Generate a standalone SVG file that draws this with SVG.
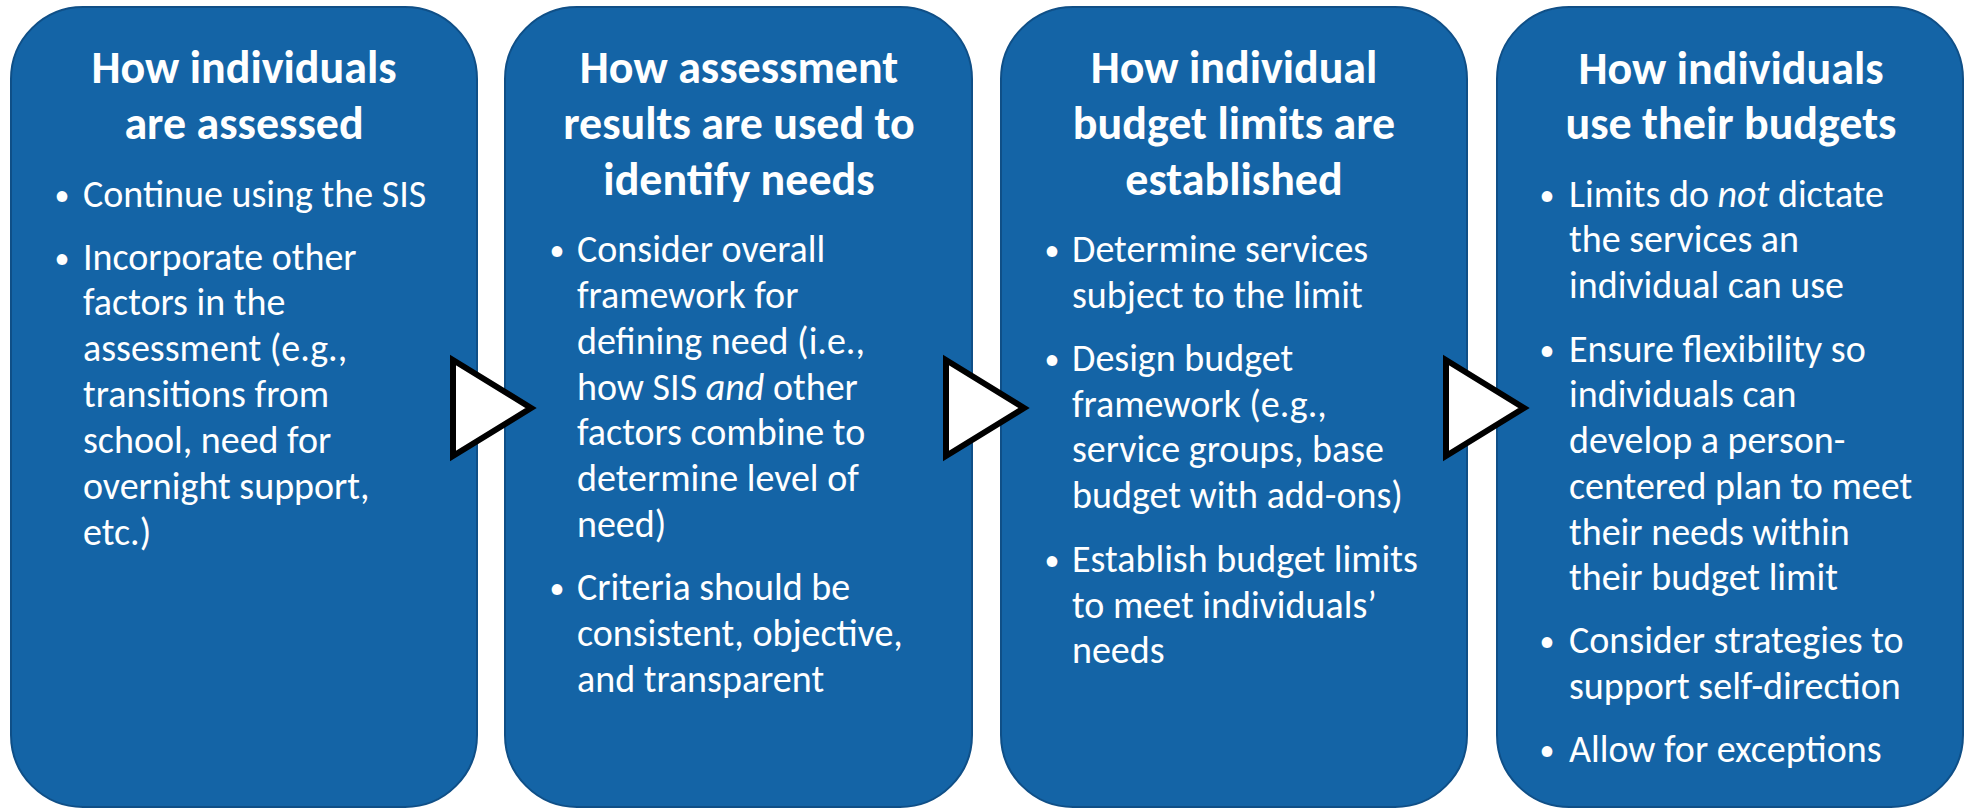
<svg xmlns="http://www.w3.org/2000/svg" width="1967" height="809" viewBox="0 0 1967 809">
<style>
.box{fill:#1464A6;stroke:#0F4F87;stroke-width:2}
.arrow{fill:#FFFFFF;stroke:#000000;stroke-width:6;stroke-linejoin:miter}
.t{font-family:Carlito,Lato,"Open Sans",sans-serif;font-weight:700;font-size:46px;fill:#FFFFFF;text-anchor:middle}
.b{font-family:Carlito,Lato,"Open Sans",sans-serif;font-size:38px;fill:#FFFFFF}
.d{font-family:Carlito,Lato,"Open Sans",sans-serif;font-size:30px;fill:#FFFFFF;text-anchor:middle}
.i{font-style:italic}
</style>
<rect width="1967" height="809" fill="#FFFFFF"/>
<g id="node1">
<rect class="box" x="11" y="7" width="466" height="800" rx="72" ry="72"/>
<text class="t" x="244" y="83">How individuals</text>
<text class="t" x="244" y="139">are assessed</text>
<text class="d" x="62" y="205">•</text>
<text class="b" x="83" y="207">Continue using the SIS</text>
<text class="d" x="62" y="268">•</text>
<text class="b" x="83" y="270">Incorporate other</text>
<text class="b" x="83" y="315">factors in the</text>
<text class="b" x="83" y="361">assessment (e.g.,</text>
<text class="b" x="83" y="407">transitions from</text>
<text class="b" x="83" y="453">school, need for</text>
<text class="b" x="83" y="499">overnight support,</text>
<text class="b" x="83" y="545">etc.)</text>
</g>
<g id="node2">
<rect class="box" x="505" y="7" width="467" height="800" rx="72" ry="72"/>
<text class="t" x="739" y="83">How assessment</text>
<text class="t" x="739" y="139">results are used to</text>
<text class="t" x="739" y="195">identify needs</text>
<text class="d" x="557" y="260">•</text>
<text class="b" x="577" y="262">Consider overall</text>
<text class="b" x="577" y="308">framework for</text>
<text class="b" x="577" y="354">defining need (i.e.,</text>
<text class="b" x="577" y="400">how SIS <tspan class="i">and</tspan> other</text>
<text class="b" x="577" y="445">factors combine to</text>
<text class="b" x="577" y="491">determine level of</text>
<text class="b" x="577" y="537">need)</text>
<text class="d" x="557" y="598">•</text>
<text class="b" x="577" y="600">Criteria should be</text>
<text class="b" x="577" y="646">consistent, objective,</text>
<text class="b" x="577" y="692">and transparent</text>
</g>
<g id="node3">
<rect class="box" x="1001" y="7" width="466" height="800" rx="72" ry="72"/>
<text class="t" x="1234" y="83">How individual</text>
<text class="t" x="1234" y="139">budget limits are</text>
<text class="t" x="1234" y="195">established</text>
<text class="d" x="1052" y="260">•</text>
<text class="b" x="1072" y="262">Determine services</text>
<text class="b" x="1072" y="308">subject to the limit</text>
<text class="d" x="1052" y="369">•</text>
<text class="b" x="1072" y="371">Design budget</text>
<text class="b" x="1072" y="417">framework (e.g.,</text>
<text class="b" x="1072" y="462">service groups, base</text>
<text class="b" x="1072" y="508">budget with add-ons)</text>
<text class="d" x="1052" y="570">•</text>
<text class="b" x="1072" y="572">Establish budget limits</text>
<text class="b" x="1072" y="618">to meet individuals’</text>
<text class="b" x="1072" y="663">needs</text>
</g>
<g id="node4">
<rect class="box" x="1497" y="7" width="466" height="800" rx="72" ry="72"/>
<text class="t" x="1731" y="84">How individuals</text>
<text class="t" x="1731" y="139">use their budgets</text>
<text class="d" x="1547" y="205">•</text>
<text class="b" x="1569" y="207">Limits do <tspan class="i">not</tspan> dictate</text>
<text class="b" x="1569" y="252">the services an</text>
<text class="b" x="1569" y="298">individual can use</text>
<text class="d" x="1547" y="360">•</text>
<text class="b" x="1569" y="362">Ensure flexibility so</text>
<text class="b" x="1569" y="407">individuals can</text>
<text class="b" x="1569" y="453">develop a person-</text>
<text class="b" x="1569" y="499">centered plan to meet</text>
<text class="b" x="1569" y="545">their needs within</text>
<text class="b" x="1569" y="590">their budget limit</text>
<text class="d" x="1547" y="651">•</text>
<text class="b" x="1569" y="653">Consider strategies to</text>
<text class="b" x="1569" y="699">support self-direction</text>
<text class="d" x="1547" y="760">•</text>
<text class="b" x="1569" y="762">Allow for exceptions</text>
</g>
<g id="connectors">
<polygon class="arrow" points="453,360 453,456 531,408"/>
<polygon class="arrow" points="946,360 946,456 1024,408"/>
<polygon class="arrow" points="1446,360 1446,456 1524,408"/>
</g>
</svg>
